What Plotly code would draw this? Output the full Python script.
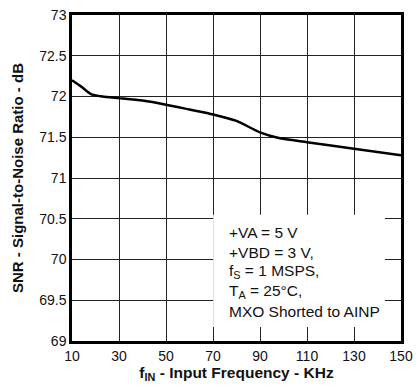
import plotly.graph_objects as go

# SNR vs input frequency
freq_khz = [10, 14, 18, 23, 30, 40, 50, 60, 70, 80, 90, 98, 110, 130, 150]
snr_db = [72.2, 72.12, 72.03, 72.0, 71.98, 71.95, 71.9, 71.84, 71.78, 71.7, 71.56, 71.49, 71.44, 71.36, 71.28]

x_range = [10, 150]
y_range = [69, 73]

note_lines = [
    "+VA = 5 V",
    "+VBD = 3 V,",
    "f<sub>S</sub> = 1 MSPS,",
    "T<sub>A</sub> = 25°C,",
    "MXO Shorted to AINP",
]

fig = go.Figure()
fig.add_trace(go.Scatter(
    x=freq_khz, y=snr_db, mode="lines",
    line=dict(color="black", width=2.5, shape="spline", smoothing=0.6),
    showlegend=False,
))

# white box holding the test conditions
fig.add_shape(type="rect", xref="paper", yref="paper",
              x0=0.429, x1=0.951, y0=0.043, y1=0.387,
              fillcolor="white", line=dict(width=0), layer="above")

line_y = [0.332, 0.273, 0.212, 0.153, 0.09]
for txt, yy in zip(note_lines, line_y):
    fig.add_annotation(xref="paper", yref="paper", x=0.472, y=yy,
                       xanchor="left", yanchor="middle", text=txt,
                       showarrow=False, font=dict(size=15.5, color="#111"))

fig.update_layout(
    width=416, height=387,
    margin=dict(l=72, r=15, t=15, b=46),
    paper_bgcolor="white", plot_bgcolor="white",
    font=dict(family="Liberation Sans, Arial, sans-serif", color="#111"),
)
fig.update_xaxes(
    range=x_range, tick0=10, dtick=20, automargin=False,
    showline=True, linecolor="black", linewidth=2.5, mirror=True,
    showgrid=True, gridcolor="#222", gridwidth=1, zeroline=False,
    tickfont=dict(size=14, color="#111"),
    title=dict(text="<b>f<sub>IN</sub> - Input Frequency - KHz</b>",
               font=dict(size=15.5), standoff=5),
)
fig.update_yaxes(
    range=y_range, tick0=69, dtick=0.5, automargin=False,
    showline=True, linecolor="black", linewidth=2.5, mirror=True,
    showgrid=True, gridcolor="#222", gridwidth=1, zeroline=False,
    tickfont=dict(size=14, color="#111"),
    title=dict(text="<b>SNR - Signal-to-Noise Ratio - dB</b>",
               font=dict(size=15), standoff=12),
)

fig.write_html("out.html", config={"displayModeBar": False},
               post_script="document.body.style.margin='0';")
